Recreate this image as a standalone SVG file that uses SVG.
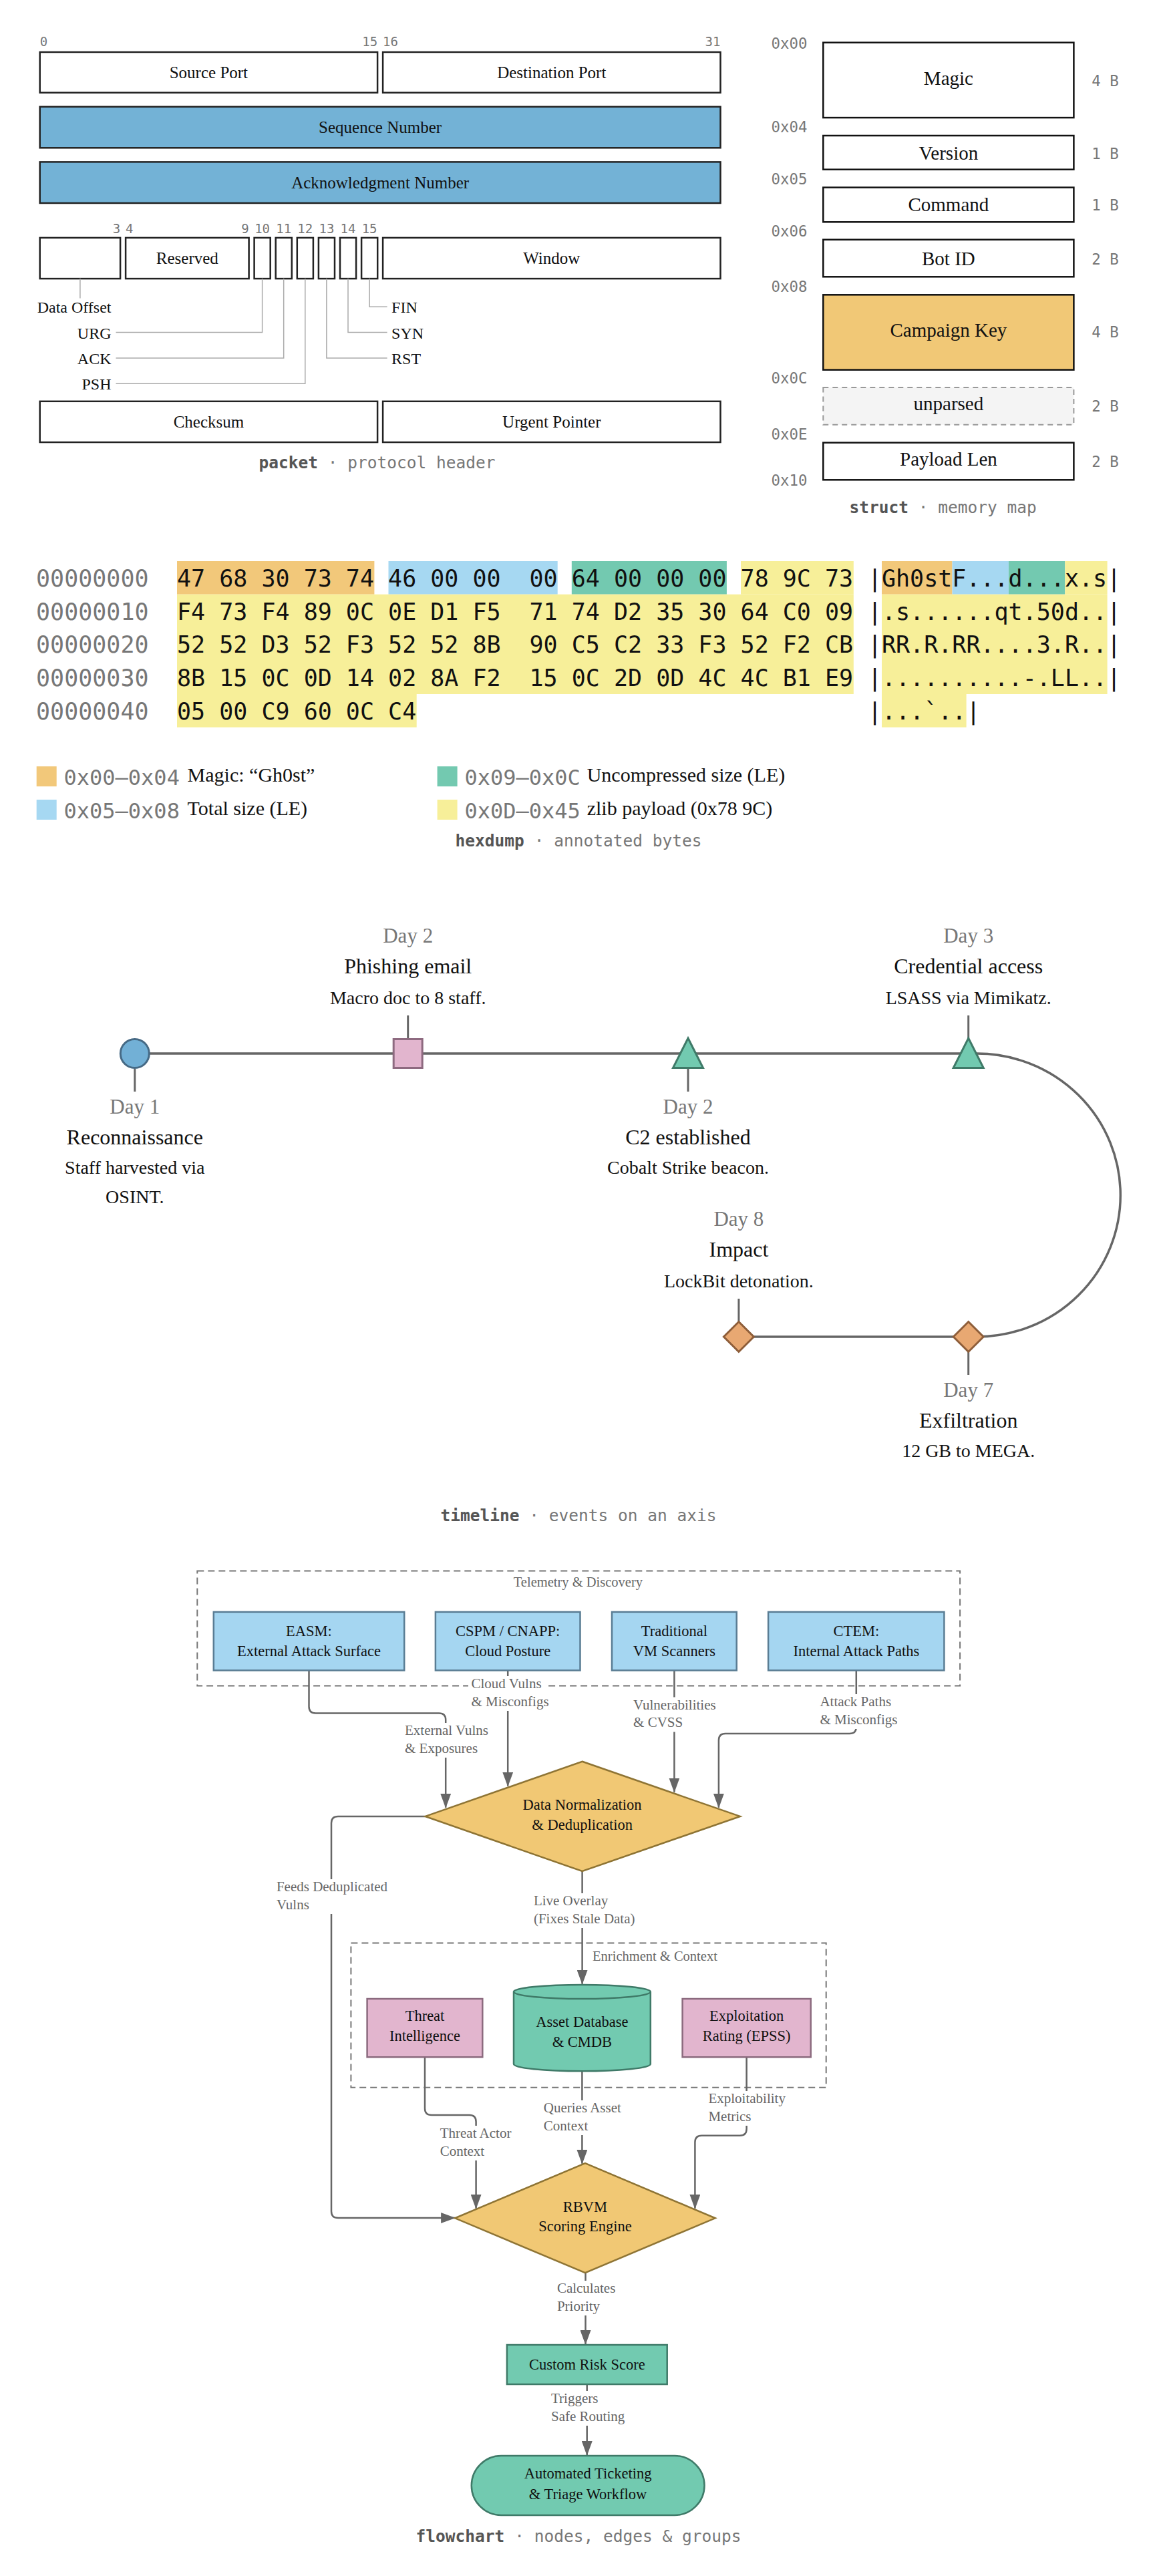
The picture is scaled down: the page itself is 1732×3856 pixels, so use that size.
<svg xmlns="http://www.w3.org/2000/svg" width="1732" height="3856" viewBox="0 0 1732 3856">
<defs>
<style>
.serif{font-family:'Liberation Serif','DejaVu Serif',serif}
.mono{font-family:'DejaVu Sans Mono','Liberation Mono',monospace}
.pbox{fill:#fff;stroke:#222;stroke-width:2.5}
.pblue{fill:#73b2d6;stroke:#222;stroke-width:2.5}
.pt{font-size:25px;fill:#111;text-anchor:middle}
.bit{font-size:19px;fill:#777}
.flag{font-size:24px;fill:#111}
.fl{fill:none;stroke:#aaa;stroke-width:1.5}
.cap{font-size:24.5px;fill:#777;text-anchor:middle}
.capb{font-weight:bold;fill:#555}
.sbox{fill:#fff;stroke:#111;stroke-width:2.5}
.st{font-size:29px;fill:#111;text-anchor:middle}
.soff{font-size:22.4px;fill:#777;text-anchor:end}
.ssz{font-size:22.4px;fill:#777}
.hx{font-size:35px;fill:#111}
.hoff{font-size:35px;fill:#777}
.lgm{font-size:32px;fill:#777}
.lgs{font-size:30px;fill:#111}
.tday{font-size:31px;fill:#777;text-anchor:middle}
.ttl{font-size:32px;fill:#111;text-anchor:middle}
.tdesc{font-size:28px;fill:#111;text-anchor:middle}
.tick{stroke:#666;stroke-width:3}
.grp{fill:none;stroke:#777;stroke-width:2;stroke-dasharray:10 6}
.glab{font-size:20.5px;fill:#666}
.nt{font-size:22.5px;fill:#111;text-anchor:middle}
.blue{fill:#a5d6f1;stroke:#5a7d94;stroke-width:2.5}
.pink{fill:#e2b5ce;stroke:#8b6a7e;stroke-width:2.5}
.green{fill:#72cab0;stroke:#3f7a68;stroke-width:2.5}
.dia{fill:#f1c874;stroke:#8e7434;stroke-width:2.5}
.edge{fill:none;stroke:#666;stroke-width:2.5;marker-end:url(#arrow)}
.el{font-size:21px;fill:#666}
.lbg{fill:#fff}
</style>
<marker id="arrow" viewBox="0 0 22 16" markerWidth="22" markerHeight="16" refX="21" refY="8" orient="auto" markerUnits="userSpaceOnUse"><path d="M0,0 L22,8 L0,16 Z" fill="#666"/></marker>
</defs>
<rect x="0" y="0" width="1732" height="3856" fill="#fff"/>

<!-- ============ PACKET ============ -->
<g id="packet">
<g class="mono bit">
<text x="59.7" y="69">0</text>
<text x="565.1" y="69" text-anchor="end">15</text>
<text x="573.1" y="69">16</text>
<text x="1078.5" y="69" text-anchor="end">31</text>
<text x="180.1" y="348.6" text-anchor="end">3</text>
<text x="188.1" y="348.6">4</text>
<text x="372.6" y="348.6" text-anchor="end">9</text>
<text x="392.6" y="348.6" text-anchor="middle">10</text>
<text x="424.7" y="348.6" text-anchor="middle">11</text>
<text x="456.8" y="348.6" text-anchor="middle">12</text>
<text x="488.9" y="348.6" text-anchor="middle">13</text>
<text x="521" y="348.6" text-anchor="middle">14</text>
<text x="553.1" y="348.6" text-anchor="middle">15</text>
</g>
<g id="pk-source"><rect class="pbox" x="59.7" y="78" width="505.4" height="60.7"/><text class="serif pt" x="312.4" y="117">Source Port</text></g>
<g id="pk-dest"><rect class="pbox" x="573.1" y="78" width="505.4" height="60.7"/><text class="serif pt" x="825.8" y="117">Destination Port</text></g>
<g id="pk-seq"><rect class="pblue" x="59.7" y="159.8" width="1018.8" height="61.5"/><text class="serif pt" x="569.1" y="199">Sequence Number</text></g>
<g id="pk-ack"><rect class="pblue" x="59.7" y="242.4" width="1018.8" height="61.6"/><text class="serif pt" x="569.1" y="281.7">Acknowledgment Number</text></g>
<g id="pk-dataoff"><rect class="pbox" x="59.7" y="355.9" width="120.4" height="61.2"/></g>
<g id="pk-reserved"><rect class="pbox" x="188.1" y="355.9" width="184.5" height="61.2"/><text class="serif pt" x="280.35" y="395">Reserved</text></g>
<g id="pk-urg"><rect class="pbox" x="380.6" y="355.9" width="24.1" height="61.2"/></g>
<g id="pk-ackf"><rect class="pbox" x="412.7" y="355.9" width="24.1" height="61.2"/></g>
<g id="pk-psh"><rect class="pbox" x="444.8" y="355.9" width="24.1" height="61.2"/></g>
<g id="pk-rst"><rect class="pbox" x="476.9" y="355.9" width="24.1" height="61.2"/></g>
<g id="pk-syn"><rect class="pbox" x="509" y="355.9" width="24.1" height="61.2"/></g>
<g id="pk-fin"><rect class="pbox" x="541.1" y="355.9" width="24.1" height="61.2"/></g>
<g id="pk-window"><rect class="pbox" x="573.1" y="355.9" width="505.4" height="61.2"/><text class="serif pt" x="825.8" y="395">Window</text></g>
<g id="pk-checksum"><rect class="pbox" x="59.7" y="600.8" width="505.4" height="61.2"/><text class="serif pt" x="312.4" y="640">Checksum</text></g>
<g id="pk-urgent"><rect class="pbox" x="573.1" y="600.8" width="505.4" height="61.2"/><text class="serif pt" x="825.8" y="640">Urgent Pointer</text></g>
<g id="pk-flaglines">
<path class="fl" d="M119.9,417.1 V446.5"/>
<path class="fl" d="M392.6,417.1 V497.6 H173.5"/>
<path class="fl" d="M424.7,417.1 V535.9 H173.5"/>
<path class="fl" d="M456.8,417.1 V574.3 H173.5"/>
<path class="fl" d="M488.9,417.1 V535.9 H579.6"/>
<path class="fl" d="M521,417.1 V497.6 H579.6"/>
<path class="fl" d="M553.1,417.1 V459.2 H579.6"/>
</g>
<g class="serif flag">
<text x="166.5" y="467.8" text-anchor="end">Data Offset</text>
<text x="166.5" y="506.9" text-anchor="end">URG</text>
<text x="166.5" y="544.9" text-anchor="end">ACK</text>
<text x="166.5" y="583.3" text-anchor="end">PSH</text>
<text x="586.1" y="467.8">FIN</text>
<text x="586.1" y="506.9">SYN</text>
<text x="586.1" y="544.9">RST</text>
</g>
<text class="mono cap" x="564.5" y="701"><tspan class="capb">packet</tspan> · protocol header</text>
</g>

<!-- ============ STRUCT ============ -->
<g id="struct">
<g class="mono soff">
<text x="1208.4" y="72.6">0x00</text>
<text x="1208.4" y="198">0x04</text>
<text x="1208.4" y="275.6">0x05</text>
<text x="1208.4" y="354.2">0x06</text>
<text x="1208.4" y="436.8">0x08</text>
<text x="1208.4" y="574">0x0C</text>
<text x="1208.4" y="657.6">0x0E</text>
<text x="1208.4" y="727.3">0x10</text>
</g>
<g id="st-magic"><rect class="sbox" x="1232.3" y="63.7" width="375.1" height="112.4"/><text class="serif st" x="1419.9" y="127.3">Magic</text><text class="mono ssz" x="1634.3" y="128.8">4 B</text></g>
<g id="st-version"><rect class="sbox" x="1232.3" y="203" width="375.1" height="50.7"/><text class="serif st" x="1419.9" y="238.8">Version</text><text class="mono ssz" x="1634.3" y="237.8">1 B</text></g>
<g id="st-command"><rect class="sbox" x="1232.3" y="280.6" width="375.1" height="51.7"/><text class="serif st" x="1419.9" y="316.4">Command</text><text class="mono ssz" x="1634.3" y="315.4">1 B</text></g>
<g id="st-botid"><rect class="sbox" x="1232.3" y="358.7" width="375.1" height="55.6"/><text class="serif st" x="1419.9" y="397">Bot ID</text><text class="mono ssz" x="1634.3" y="396">2 B</text></g>
<g id="st-campaign"><rect x="1232.3" y="441.3" width="375.1" height="112.3" fill="#f1c876" stroke="#111" stroke-width="2.5"/><text class="serif st" x="1419.9" y="504.4">Campaign Key</text><text class="mono ssz" x="1634.3" y="505.4">4 B</text></g>
<g id="st-unparsed"><rect x="1232.3" y="580" width="375.1" height="55.7" fill="#f4f4f4" stroke="#999" stroke-width="2" stroke-dasharray="8 6"/><text class="serif st" x="1419.9" y="613.9">unparsed</text><text class="mono ssz" x="1634.3" y="615.8">2 B</text></g>
<g id="st-payload"><rect class="sbox" x="1232.3" y="662.6" width="375.1" height="55.7"/><text class="serif st" x="1419.9" y="697.4">Payload Len</text><text class="mono ssz" x="1634.3" y="699.4">2 B</text></g>
<text class="mono cap" x="1411.7" y="768.1"><tspan class="capb">struct</tspan> · memory map</text>
</g>

<!-- ============ HEXDUMP ============ -->
<g id="hexdump">
<g id="hex-bands">
<rect x="265" y="840" width="295.4" height="49.7" fill="#f2c87a"/>
<rect x="581.5" y="840" width="253.2" height="49.7" fill="#a6d8f2"/>
<rect x="855.8" y="840" width="232.1" height="49.7" fill="#73c9b0"/>
<rect x="1109" y="840" width="168.8" height="49.7" fill="#f7ef99"/>
<rect x="265" y="889.7" width="1012.8" height="149.3" fill="#f7ef99"/>
<rect x="265" y="1039" width="358.7" height="49.7" fill="#f7ef99"/>
<rect x="1320" y="840" width="105.5" height="49.7" fill="#f2c87a"/>
<rect x="1425.5" y="840" width="84.4" height="49.7" fill="#a6d8f2"/>
<rect x="1509.9" y="840" width="84.4" height="49.7" fill="#73c9b0"/>
<rect x="1594.3" y="840" width="63.3" height="49.7" fill="#f7ef99"/>
<rect x="1320" y="889.7" width="337.6" height="149.3" fill="#f7ef99"/>
<rect x="1320" y="1039" width="126.6" height="49.7" fill="#f7ef99"/>
</g>
<g class="mono hoff">
<text x="54" y="877.8">00000000</text>
<text x="54" y="927.5">00000010</text>
<text x="54" y="977.3">00000020</text>
<text x="54" y="1027">00000030</text>
<text x="54" y="1076.8">00000040</text>
</g>
<g class="mono hx">
<text x="265" y="877.8">47 68 30 73 74 46 00 00</text><text x="792.5" y="877.8">00 64 00 00 00 78 9C 73</text>
<text x="265" y="927.5">F4 73 F4 89 0C 0E D1 F5</text><text x="792.5" y="927.5">71 74 D2 35 30 64 C0 09</text>
<text x="265" y="977.3">52 52 D3 52 F3 52 52 8B</text><text x="792.5" y="977.3">90 C5 C2 33 F3 52 F2 CB</text>
<text x="265" y="1027">8B 15 0C 0D 14 02 8A F2</text><text x="792.5" y="1027">15 0C 2D 0D 4C 4C B1 E9</text>
<text x="265" y="1076.8">05 00 C9 60 0C C4</text>
<text x="1298.9" y="877.8">|Gh0stF...d...x.s|</text>
<text x="1298.9" y="927.5">|.s......qt.50d..|</text>
<text x="1298.9" y="977.3">|RR.R.RR....3.R..|</text>
<text x="1298.9" y="1027">|..........-.LL..|</text>
<text x="1298.9" y="1076.8">|...`..|</text>
</g>
<g id="hex-legend">
<rect x="54.7" y="1147.2" width="30" height="30" fill="#f2c87a"/>
<rect x="54.7" y="1197" width="30" height="30" fill="#a6d8f2"/>
<rect x="654.6" y="1147.2" width="30" height="30" fill="#73c9b0"/>
<rect x="654.6" y="1197" width="30" height="30" fill="#f7ef99"/>
<text class="mono lgm" x="95.5" y="1174.7">0x00–0x04</text>
<text class="mono lgm" x="95.5" y="1224.5">0x05–0x08</text>
<text class="mono lgm" x="695.4" y="1174.7">0x09–0x0C</text>
<text class="mono lgm" x="695.4" y="1224.5">0x0D–0x45</text>
<text class="serif lgs" x="280.6" y="1169.8">Magic: “Gh0st”</text>
<text class="serif lgs" x="280.6" y="1219.5">Total size (LE)</text>
<text class="serif lgs" x="878.7" y="1169.8">Uncompressed size (LE)</text>
<text class="serif lgs" x="878.7" y="1219.5">zlib payload (0x78 9C)</text>
</g>
<text class="mono cap" x="866" y="1266.6"><tspan class="capb">hexdump</tspan> · annotated bytes</text>
</g>

<!-- ============ TIMELINE ============ -->
<g id="timeline">
<g id="tl-connectors">
<path d="M201.8,1577 H1462 A215.3,212 0 0 1 1462,2001 H1105.9" fill="none" stroke="#666" stroke-width="3.5"/>
<line class="tick" x1="201.8" y1="1600" x2="201.8" y2="1634"/>
<line class="tick" x1="610.7" y1="1520" x2="610.7" y2="1555"/>
<line class="tick" x1="1030" y1="1599" x2="1030" y2="1634"/>
<line class="tick" x1="1449.7" y1="1520" x2="1449.7" y2="1554"/>
<line class="tick" x1="1105.9" y1="1944" x2="1105.9" y2="1978"/>
<line class="tick" x1="1449.7" y1="2024" x2="1449.7" y2="2058"/>
</g>
<g id="tl-recon">
<circle cx="201.8" cy="1577" r="21.5" fill="#72b0d6" stroke="#466a85" stroke-width="3"/>
<text class="serif tday" x="201.8" y="1667">Day 1</text>
<text class="serif ttl" x="201.8" y="1713.3">Reconnaissance</text>
<text class="serif tdesc" x="201.8" y="1757">Staff harvested via</text>
<text class="serif tdesc" x="201.8" y="1800.8">OSINT.</text>
</g>
<g id="tl-phish">
<rect x="589.2" y="1555.5" width="43" height="43" fill="#e2b5ce" stroke="#8e6a80" stroke-width="3"/>
<text class="serif tday" x="610.7" y="1410.7">Day 2</text>
<text class="serif ttl" x="610.7" y="1456.5">Phishing email</text>
<text class="serif tdesc" x="610.7" y="1502.5">Macro doc to 8 staff.</text>
</g>
<g id="tl-c2">
<polygon points="1030,1554 1052.5,1598.5 1007.5,1598.5" fill="#72cab0" stroke="#3f7a68" stroke-width="3"/>
<text class="serif tday" x="1030" y="1667">Day 2</text>
<text class="serif ttl" x="1030" y="1713.3">C2 established</text>
<text class="serif tdesc" x="1030" y="1757">Cobalt Strike beacon.</text>
</g>
<g id="tl-cred">
<polygon points="1449.7,1554 1472.2,1598.5 1427.2,1598.5" fill="#72cab0" stroke="#3f7a68" stroke-width="3"/>
<text class="serif tday" x="1449.7" y="1410.7">Day 3</text>
<text class="serif ttl" x="1449.7" y="1456.5">Credential access</text>
<text class="serif tdesc" x="1449.7" y="1502.5">LSASS via Mimikatz.</text>
</g>
<g id="tl-exfil">
<polygon points="1449.7,1978.5 1472.2,2001 1449.7,2023.5 1427.2,2001" fill="#e8a872" stroke="#8e5e3a" stroke-width="3"/>
<text class="serif tday" x="1449.7" y="2091">Day 7</text>
<text class="serif ttl" x="1449.7" y="2136.8">Exfiltration</text>
<text class="serif tdesc" x="1449.7" y="2181.4">12 GB to MEGA.</text>
</g>
<g id="tl-impact">
<polygon points="1105.9,1978.5 1128.4,2001 1105.9,2023.5 1083.4,2001" fill="#e8a872" stroke="#8e5e3a" stroke-width="3"/>
<text class="serif tday" x="1105.9" y="1834.6">Day 8</text>
<text class="serif ttl" x="1105.9" y="1881.4">Impact</text>
<text class="serif tdesc" x="1105.9" y="1927">LockBit detonation.</text>
</g>
<text class="mono cap" x="866" y="2277"><tspan class="capb">timeline</tspan> · events on an axis</text>
</g>

<!-- ============ FLOWCHART ============ -->
<g id="flowchart">
<g id="grp-telemetry">
<rect class="grp" x="295.3" y="2351.4" width="1141.8" height="172.2"/>
<text class="serif glab" x="865.4" y="2375.4" text-anchor="middle">Telemetry &amp; Discovery</text>
</g>
<g id="grp-enrichment">
<rect class="grp" x="525.4" y="2908.6" width="711.3" height="216.2"/>
<text class="serif glab" x="887.1" y="2935.4">Enrichment &amp; Context</text>
</g>

<g id="connectors">
<path class="edge" d="M462.5,2500.4 V2554.6 Q462.5,2564.6 472.5,2564.6 H657.2 Q667.2,2564.6 667.2,2574.6 V2705.7"/>
<path class="edge" d="M760.2,2500.4 V2673.6"/>
<path class="edge" d="M1009.4,2500.4 V2682.5"/>
<path class="edge" d="M1281.8,2500.4 V2585 Q1281.8,2595 1271.8,2595 H1085.9 Q1075.9,2595 1075.9,2605 V2705.7"/>
<path class="edge" d="M636.6,2718.9 H506 Q496,2718.9 496,2728.9 V3310 Q496,3320 506,3320 H681.1"/>
<path class="edge" d="M871.6,2801 V2969.8"/>
<path class="edge" d="M636,3079.3 V3156.1 Q636,3166.1 646,3166.1 H702.6 Q712.6,3166.1 712.6,3176.1 V3305.8"/>
<path class="edge" d="M871.4,3100.3 V3238.8"/>
<path class="edge" d="M1117.6,3079.3 V3186.7 Q1117.6,3196.7 1107.6,3196.7 H1050.4 Q1040.4,3196.7 1040.4,3206.7 V3305.8"/>
<path class="edge" d="M876.5,3402.2 V3509"/>
<path class="edge" d="M878.7,3569 V3675"/>
<g id="edge-labels" class="serif el">
<rect class="lbg" x="701" y="2509" width="120" height="52"/>
<text x="705.5" y="2527.1">Cloud Vulns</text><text x="705.5" y="2553.9">&amp; Misconfigs</text>
<rect class="lbg" x="601.5" y="2579" width="134" height="52"/>
<text x="606" y="2596.8">External Vulns</text><text x="606" y="2623.6">&amp; Exposures</text>
<rect class="lbg" x="943.5" y="2540.5" width="132" height="52"/>
<text x="948.1" y="2558.6">Vulnerabilities</text><text x="948.1" y="2585.4">&amp; CVSS</text>
<rect class="lbg" x="1223" y="2536" width="120" height="52"/>
<text x="1227.4" y="2553.9">Attack Paths</text><text x="1227.4" y="2580.7">&amp; Misconfigs</text>
<rect class="lbg" x="409.5" y="2813" width="173" height="52"/>
<text x="413.9" y="2830.7">Feeds Deduplicated</text><text x="413.9" y="2857.5">Vulns</text>
<rect class="lbg" x="794.5" y="2834" width="155" height="52"/>
<text x="798.9" y="2852.1">Live Overlay</text><text x="798.9" y="2878.9">(Fixes Stale Data)</text>
<rect class="lbg" x="654" y="3182" width="118" height="52"/>
<text x="658.7" y="3199.8">Threat Actor</text><text x="658.7" y="3226.6">Context</text>
<rect class="lbg" x="809" y="3144" width="126" height="52"/>
<text x="813.8" y="3162.3">Queries Asset</text><text x="813.8" y="3189">Context</text>
<rect class="lbg" x="1056" y="3130" width="124" height="52"/>
<text x="1060.4" y="3147.8">Exploitability</text><text x="1060.4" y="3174.6">Metrics</text>
<rect class="lbg" x="829" y="3414" width="95" height="52"/>
<text x="833.9" y="3432">Calculates</text><text x="833.9" y="3459">Priority</text>
<rect class="lbg" x="820" y="3579" width="117" height="52"/>
<text x="825" y="3597">Triggers</text><text x="825" y="3624">Safe Routing</text>
</g>
</g>

<g id="n-easm"><rect class="blue" x="319.8" y="2412.9" width="285.4" height="87.5"/><text class="serif nt" x="462.5" y="2448.6">EASM:</text><text class="serif nt" x="462.5" y="2478.9">External Attack Surface</text></g>
<g id="n-cspm"><rect class="blue" x="651.9" y="2412.9" width="216.6" height="87.5"/><text class="serif nt" x="760.2" y="2448.6">CSPM / CNAPP:</text><text class="serif nt" x="760.2" y="2478.9">Cloud Posture</text></g>
<g id="n-vm"><rect class="blue" x="916" y="2412.9" width="186.7" height="87.5"/><text class="serif nt" x="1009.4" y="2448.6">Traditional</text><text class="serif nt" x="1009.4" y="2478.9">VM Scanners</text></g>
<g id="n-ctem"><rect class="blue" x="1150.1" y="2412.9" width="263.3" height="87.5"/><text class="serif nt" x="1281.8" y="2448.6">CTEM:</text><text class="serif nt" x="1281.8" y="2478.9">Internal Attack Paths</text></g>
<g id="n-normalize"><polygon class="dia" points="871.6,2636.8 1108,2718.9 871.6,2801 636.6,2718.9"/><text class="serif nt" x="871.6" y="2709.3">Data Normalization</text><text class="serif nt" x="871.6" y="2738.6">&amp; Deduplication</text></g>
<g id="n-threat"><rect class="pink" x="549.6" y="2992" width="172.7" height="87.3"/><text class="serif nt" x="636" y="3025.3">Threat</text><text class="serif nt" x="636" y="3055.2">Intelligence</text></g>
<g id="n-asset"><path class="green" d="M769,2981.5 A102.4,10.5 0 0 1 973.8,2981.5 V3089.8 A102.4,10.5 0 0 1 769,3089.8 Z"/><path d="M769,2981.5 A102.4,10.5 0 0 0 973.8,2981.5" fill="none" stroke="#3f7a68" stroke-width="2.5"/><text class="serif nt" x="871.4" y="3034.1">Asset Database</text><text class="serif nt" x="871.4" y="3064">&amp; CMDB</text></g>
<g id="n-epss"><rect class="pink" x="1021.6" y="2992" width="192.1" height="87.3"/><text class="serif nt" x="1117.6" y="3025.3">Exploitation</text><text class="serif nt" x="1117.6" y="3055.2">Rating (EPSS)</text></g>
<g id="n-rbvm"><polygon class="dia" points="876,3238.1 1070.7,3320.3 876,3402.2 681.1,3320.3"/><text class="serif nt" x="876" y="3310.8">RBVM</text><text class="serif nt" x="876" y="3340.2">Scoring Engine</text></g>
<g id="n-score"><rect class="green" x="758.9" y="3510" width="239.8" height="59"/><text class="serif nt" x="878.8" y="3547">Custom Risk Score</text></g>
<g id="n-ticket"><rect class="green" x="705.8" y="3676" width="348.7" height="89" rx="44.5" ry="44.5"/><text class="serif nt" x="880.1" y="3710">Automated Ticketing</text><text class="serif nt" x="880.1" y="3740.5">&amp; Triage Workflow</text></g>
<text class="mono cap" x="866" y="3805"><tspan class="capb">flowchart</tspan> · nodes, edges &amp; groups</text>
</g>
</svg>
